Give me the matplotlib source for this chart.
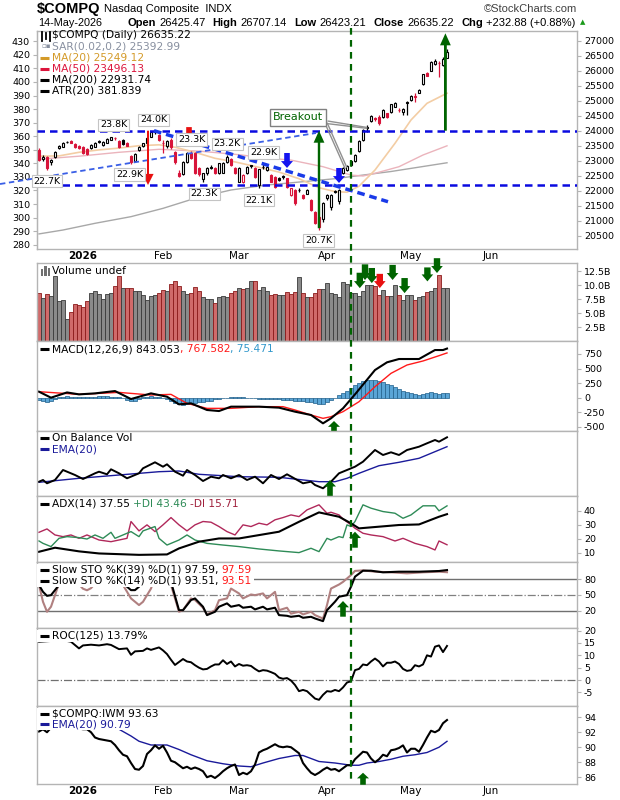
#!/usr/bin/env python3
"""
Nasdaq Composite daily chart with indicator panels, StockCharts style.
Saves out.png (620x800).
"""

import matplotlib
matplotlib.use("Agg")
import matplotlib.pyplot as plt
from matplotlib.lines import Line2D
from matplotlib.patches import FancyArrow, Rectangle

plt.rcParams["axes.unicode_minus"] = False

# ---------------- data (trading-day index 0 = 16-Dec-2025) ----------------
month_idx = [11, 31, 50, 72, 93, 113]
month_labels = ["2026", "Feb", "Mar", "Apr", "May", "Jun"]

prev_close0 = 23400
opens = [23357, 23050, 23130, 22960, 23110, 23420, 23470, 23640, 23650, 23550,
         23480, 23470, 23400, 23410, 23470, 23650, 23520, 23600, 23700, 23770,
         23650, 23690, 23600, 23150, 22980, 23350, 23480, 23600, 23800, 24000,
         23850, 23600, 23500, 23700, 23300, 22600, 22560, 22960, 23260, 23250,
         22750, 22400, 22580, 22800, 22745, 22580, 22600, 22960, 23050, 22750,
         22300, 22300, 22580, 22850, 22750, 22190, 22800, 22690, 22520, 22470,
         22410, 22480, 22410, 21860, 22024, 22040, 21870, 21900, 21690, 21300,
         21135, 21047, 21760, 21470, 21990, 21650, 22600, 22700, 22850, 22980,
         23335, 23690, 24110, 24335, 24420, 24470, 24446, 24580, 24635, 24802,
         24700, 24635, 24945, 25024, 25150, 25270, 25546, 25910, 26000, 26212,
         26250, 26190, 26425.47]
highs = [23420, 23180, 23160, 23060, 23330, 23510, 23620, 23670, 23680, 23580,
         23520, 23500, 23430, 23560, 23630, 23680, 23660, 23750, 23800, 23790,
         23700, 23720, 23640, 23200, 23260, 23500, 23600, 23780, 24000, 24020,
         23880, 23700, 23680, 23740, 23330, 22680, 22980, 23280, 23330, 23280,
         22800, 22600, 22780, 22850, 22790, 22940, 22960, 23200, 23080, 22780,
         22780, 22560, 22830, 22870, 22780, 22740, 22900, 22850, 22560, 22500,
         22450, 22520, 22440, 22100, 22060, 22080, 21900, 22050, 21720, 21330,
         21160, 21620, 21900, 21900, 22030, 22060, 22800, 22870, 23000, 23220,
         23680, 24050, 24180, 24520, 24470, 24520, 24720, 24600, 24900, 24960,
         24750, 24740, 24980, 25180, 25240, 25380, 25900, 25950, 26320, 26400,
         26320, 26460, 26707.14]
lows = [22990, 22980, 22690, 22870, 23080, 23390, 23450, 23590, 23580, 23420,
        23400, 23220, 23200, 23380, 23450, 23590, 23490, 23580, 23680, 23700,
        23440, 23540, 23480, 22900, 22950, 23320, 23450, 23580, 23780, 23900,
        23650, 23250, 23420, 23400, 22900, 22450, 22520, 22930, 23050, 22560,
        22500, 22300, 22540, 22720, 22550, 22560, 22580, 22940, 22820, 22560,
        22280, 22250, 22550, 22760, 22420, 22100, 22740, 22660, 22280, 22100,
        22330, 22400, 22100, 21820, 21520, 21950, 21720, 21880, 21330, 20880,
        20700, 20950, 21700, 21360, 21920, 21560, 22550, 22650, 22820, 22950,
        23300, 23660, 23950, 24300, 24330, 24200, 24420, 24420, 24600, 24780,
        24620, 24520, 24524, 25000, 24970, 25250, 25520, 25820, 25980, 26190,
        25800, 26150, 26423.21]
closes = [23023, 23130, 22750, 23010, 23300, 23490, 23600, 23610, 23600, 23450,
          23440, 23246, 23230, 23520, 23600, 23620, 23640, 23720, 23780, 23740,
          23470, 23560, 23500, 22950, 23230, 23470, 23580, 23760, 23950, 23960,
          23690, 23580, 23650, 23450, 22950, 22500, 22950, 23250, 23100, 22600,
          22550, 22580, 22745, 22760, 22580, 22910, 22920, 23140, 22850, 22600,
          22745, 22520, 22800, 22810, 22450, 22710, 22780, 22800, 22300, 22135,
          22357, 22470, 22135, 22080, 21580, 22020, 21745, 22010, 21357, 20912,
          20800, 21580, 21850, 21860, 21970, 22030, 22760, 22830, 22980, 23200,
          23657, 24024, 24090, 24490, 24380, 24245, 24690, 24446, 24890, 24935,
          24680, 24725, 24935, 25157, 25110, 25357, 25880, 25835, 26300, 26324,
          26240, 26402.34, 26635.22]

ma20_i = [0, 5, 10, 15, 20, 25, 30, 34, 39, 44, 49, 55, 60, 65, 70, 74, 77, 80, 84, 89, 93, 97, 102]
ma20_v = [23150, 23160, 23280, 23360, 23420, 23500, 23530, 23450, 23280, 23080, 22960, 22780,
          22620, 22400, 22100, 21970, 21950, 22150, 22690, 23580, 24357, 24913, 25249]
ma50_i = [0, 10, 20, 30, 40, 50, 56, 63, 71, 78, 81, 84, 90, 96, 102]
ma50_v = [23050, 23150, 23280, 23380, 23320, 23200, 23100, 23020, 22800, 22520, 22490, 22580,
          22800, 23190, 23496]
ma200_i = [0, 6, 14, 23, 31, 39, 48, 57, 66, 74, 78, 88, 102]
ma200_v = [20560, 20690, 20913, 21135, 21412, 21746, 22024, 22190, 22300, 22400, 22470, 22640, 22931]

volume_b = [8.56, 7.66, 8.4, 7.96, 11.7, 7.2, 7.4, 3.95, 5.15, 6.6,
            6.45, 6.0, 7.2, 8.56, 9.0, 8.4, 7.55, 8.4, 8.56, 9.75,
            11.7, 9.45, 9.45, 9.45, 9.0, 9.0, 8.15, 7.4, 7.96, 8.15,
            8.56, 9.15, 8.85, 10.15, 10.75, 9.75, 9.0, 8.4, 8.56, 9.65,
            9.0, 7.8, 7.55, 7.55, 6.8, 7.8, 7.96, 7.8, 8.56, 9.0,
            9.45, 9.3, 9.45, 10.75, 10.75, 9.15, 9.6, 8.85, 8.25, 8.4,
            8.25, 8.25, 8.7, 8.4, 8.7, 11.4, 8.56, 7.8, 7.8, 8.56,
            9.3, 9.3, 10.3, 8.56, 8.4, 7.8, 10.5, 10.15, 8.56, 8.56,
            7.96, 9.0, 9.95, 9.95, 9.75, 8.25, 9.15, 7.96, 7.96, 10.0,
            8.15, 7.4, 8.15, 8.15, 7.4, 7.8, 7.96, 8.7, 9.0, 9.45,
            11.8, 9.45, 9.45]

macd_i = [0, 3, 7, 10, 14, 19, 23, 28, 32, 35, 38, 42, 45, 48, 55, 60, 64, 68, 71, 73, 76,
          79, 84, 87, 90, 95, 99, 101, 102]
macd_v = [103, 0, 90, 57, 74, 114, -23, 74, 17, -114, -97, -211, -229, -154, -154, -171, -240,
          -297, -440, -354, -183, 57, 475, 607, 664, 664, 818, 818, 843]
signal_i = [0, 10, 20, 28, 33, 37, 42, 48, 55, 61, 64, 68, 71, 73, 76, 80, 84, 88, 92, 96, 100, 102]
signal_v = [103, 57, 91, 46, 57, -97, -183, -183, -154, -154, -211, -297, -354, -326, -240, -69,
            189, 418, 561, 630, 721, 768]
macd_hist = [-40, -60, -70, -50, -30, 10, 20, 25, 20, 15,
             10, 10, 15, 15, 20, 25, 30, 25, 20, 15,
             10, -10, -40, -60, -50, -20, 10, 20, 25, 20,
             10, -10, -30, -60, -90, -110, -120, -110, -100, -90,
             -80, -70, -60, -50, -30, -20, -10, 0, 10, 15,
             10, 5, 0, -5, -10, -15, -20, -20, -25, -30,
             -30, -35, -40, -40, -50, -60, -60, -70, -80, -90,
             -100, -110, -80, -40, 0, 40, 80, 120, 170, 210,
             250, 280, 300, 310, 300, 290, 270, 240, 210, 180,
             150, 120, 100, 80, 60, 50, 60, 80, 90, 85,
             70, 75, 75]

obv_i = [0, 1, 2, 4, 6, 9, 11, 14, 15, 17, 18, 20, 22, 25, 26, 29, 31, 32, 34, 36, 37, 39, 41,
         43, 45, 46, 48, 50, 52, 54, 56, 58, 60, 62, 65, 66, 68, 69, 71, 73, 75, 79, 81, 84, 86,
         88, 90, 92, 95, 97, 99, 100, 102]
obv_v = [14.3, 16, 12.7, 16, 26, 21, 17, 22.7, 24.3, 21.7, 26.7, 22.7, 17.7, 22.7, 27.7, 33.7,
         29.3, 31.7, 24.3, 20.3, 26, 21, 15, 19.3, 17.7, 21, 17.7, 21, 16, 19.3, 12.7, 21, 17,
         21.7, 15, 12.7, 14.3, 11, 7.7, 14.3, 22.7, 29.3, 34.3, 46, 41, 43.7, 41, 46, 49.3, 52.7,
         56, 54.3, 58.7]
obv_ema_i = [0, 10, 20, 30, 35, 40, 50, 60, 70, 74, 77, 80, 85, 90, 95, 102]
obv_ema_v = [13.7, 17.7, 21, 24.3, 25, 21.7, 19.3, 18.7, 14.3, 14.3, 17.7, 22.7, 30.3, 33.7, 37.7, 49.3]

adx_i = [0, 4, 10, 15, 25, 32, 35, 40, 45, 50, 55, 60, 65, 70, 75, 78, 80, 85, 90, 95, 100, 102]
adx_v = [10.7, 13.6, 11.0, 9.5, 8.5, 8.8, 13.1, 17.9, 20.2, 20.2, 22.6, 25.0, 32.1, 38.8, 35.7,
         31.0, 27.4, 28.6, 29.8, 30.2, 35.7, 37.55]
pdi_i = [0, 1, 3, 5, 7, 10, 12, 14, 16, 18, 19, 21, 23, 25, 26, 29, 30, 32, 35, 37, 39, 42, 46,
         50, 55, 60, 65, 68, 70, 72, 73, 75, 76, 77, 78, 79, 81, 83, 86, 89, 91, 93, 96, 99, 100, 102]
pdi_v = [18.4, 16.7, 14.4, 20.3, 21.5, 20.8, 19.8, 22.7, 20.3, 24.6, 20.3, 22.7, 25.1, 21.5,
         25.6, 28.7, 20.3, 15.5, 19.1, 22.7, 19.1, 16.7, 15.5, 14.4, 12.7, 11.3, 10.1, 13.2, 10.8,
         20.3, 19.1, 21.5, 20.8, 29.9, 28.7, 32.3, 44.2, 41.8, 39.4, 38.2, 34.6, 37.0, 43.5, 43.5,
         39.9, 43.46]
mdi_i = [0, 2, 4, 6, 8, 10, 12, 15, 18, 20, 22, 23, 25, 27, 29, 31, 33, 35, 37, 39, 41, 43, 45,
         47, 49, 51, 53, 55, 57, 59, 61, 63, 65, 67, 69, 70, 72, 73, 75, 76, 78, 79, 81, 83, 86,
         89, 91, 94, 97, 99, 100, 102]
mdi_v = [24.6, 27.0, 22.7, 21.5, 22.7, 20.3, 22.7, 19.1, 17.9, 19.1, 20.3, 32.3, 25.6, 29.9,
         25.1, 29.9, 35.1, 29.9, 25.6, 29.9, 32.3, 31.8, 28.7, 25.1, 22.7, 29.9, 28.7, 31.1, 29.9,
         33.5, 35.1, 37.0, 35.8, 40.6, 43.0, 44.2, 38.2, 38.9, 37.0, 34.1, 29.9, 27.5, 23.9, 22.7,
         21.5, 18.4, 20.3, 16.7, 14.4, 12.0, 18.4, 15.71]

sto39_i = [0, 1, 2, 3, 4, 5, 6, 8, 12, 16, 20, 21, 22, 23, 24, 25, 26, 27, 29, 31, 33, 35, 36,
           38, 39, 41, 42, 44, 45, 47, 48, 50, 51, 53, 54, 56, 57, 59, 60, 62, 63, 65, 66, 68,
           69, 71, 72, 74, 75, 77, 78, 79, 81, 83, 86, 90, 95, 100, 102]
sto39_v = [69, 56, 48.4, 49.7, 59.3, 69, 81.7, 90, 92, 90, 88, 75.4, 65.8, 59.3, 59.3, 65.8,
           75.4, 85, 93, 92, 75, 21, 21, 40.3, 43.5, 27.6, 11.6, 18, 27.6, 34, 27.6, 30.8, 25.7,
           27.6, 22.5, 27.6, 22.5, 25.7, 11.6, 10.3, 8.4, 10.3, 6.5, 8.4, 5.2, 0.1, 21, 37.2,
           46.7, 49.7, 65.8, 85, 96.4, 96.4, 93.3, 94.5, 94.5, 95.8, 97.59]
sto14_i = [0, 1, 2, 3, 4, 5, 6, 8, 10, 11, 12, 13, 14, 16, 20, 21, 23, 25, 26, 28, 29, 31, 33,
           35, 36, 38, 39, 41, 42, 44, 45, 47, 48, 50, 51, 53, 54, 56, 57, 59, 60, 62, 63, 65,
           66, 68, 69, 71, 72, 73, 75, 76, 78, 79, 81, 84, 88, 92, 96, 100, 102]
sto14_v = [69, 37, 18, 27.6, 49.7, 72.2, 84, 90, 70, 62, 59, 63, 72, 90, 88, 69, 43.5, 30.8,
           37, 62.3, 85, 92, 69, 18, 21, 43.5, 40.3, 25.7, 12.9, 21, 40, 43.5, 62.3, 53, 43.5,
           51, 49.7, 53, 43.5, 56, 21, 25.7, 14.4, 18, 12.9, 18, 11.6, 5, 30.8, 62.3, 70, 75, 88,
           96, 97, 94.5, 93.3, 91.3, 93.3, 94.5, 93.51]

roc_i = [0, 5, 7, 8, 10, 11, 13, 15, 17, 18, 20, 22, 23, 24, 26, 27, 28, 30] + list(range(31, 103))
roc_v = [15.5, 16, 15.8, 15.5, 12.8, 14, 14.3, 14, 14.5, 14.2, 12.5, 12.8, 10.2, 11.6, 11.8,
         12.8, 12.2, 13.2,
         12, 10.5, 8.2, 6.1, 7.3, 8.5, 7.5, 7.2, 6, 5,
         4.3, 4.5, 5.5, 6.3, 6.3, 8, 6.5, 7.5, 5.5, 6.5,
         5.8, 6, 5.7, 4.5, 3.5, 4, 3.8, 3.2, 2.5, 1,
         0.5, 0.8, -0.2, -2, -4.5, -4, -4.5, -6, -7.5, -8,
         -6, -4.5, -4.7, -4, -4.5, -3, -1, -0.5, 4, 4.5,
         6.3, 6, 7.5, 8.7, 7.5, 5.5, 7, 7, 7.5, 6.5,
         4.5, 3.7, 4, 6, 5.5, 6.3, 10, 9.5, 13.5, 14,
         11.3, 13.79]

ratio = [92.1, 92.4, 92.0, 92.6, 92.8, 93.0, 93.2, 93.0, 92.8, 92.6,
         92.5, 92.4, 92.4, 92.0, 91.3, 91.1, 91.0, 90.9, 90.8, 90.3,
         89.6, 89.0, 88.8, 87.9, 87.1, 87.0, 87.5, 89.1, 89.6, 90.25,
         89.8, 90.2, 89.3, 88.2, 88.0, 87.6, 87.2, 87.4, 87.1, 87.3,
         87.1, 86.8, 86.0, 86.2, 85.9, 86.3, 86.8, 87.2, 87.5, 87.7,
         86.3, 86.6, 86.4, 86.8, 87.7, 89.3, 89.6, 89.8, 90.1, 90.4,
         90.1, 90.0, 90.1, 90.0, 89.6, 89.2, 87.9, 87.2, 86.6, 86.3,
         86.6, 87.0, 87.3, 87.0, 87.1, 86.8, 87.2, 87.6, 87.6, 88.4,
         88.9, 89.4, 89.3, 88.5, 88.0, 88.4, 89.0, 88.8, 89.6, 89.7,
         89.9, 90.25, 89.3, 89.8, 89.8, 89.4, 90.3, 91.3, 92.2, 92.0,
         92.3, 93.2, 93.63]
ratio_ema_i = [0, 10, 20, 23, 25, 28, 32, 35, 38, 42, 46, 50, 53, 56, 60, 64, 66, 70, 74, 78,
               80, 82, 85, 88, 91, 94, 97, 100, 102]
ratio_ema_v = [93.0, 92.8, 92.4, 91.5, 90.8, 90.3, 90.3, 89.7, 89.0, 88.2, 87.8, 87.5, 87.4,
               87.9, 88.5, 88.9, 88.9, 88.1, 87.9, 87.6, 87.6, 87.9, 88.1, 88.4, 88.8, 89.0,
               89.3, 90.0, 90.79]

# ---------------- annotations (index, price) ----------------
upper_level, lower_level = 24000, 22200
breakout_idx = 77.9
price_labels = [(18.7, 24197, "23.8K"), (28.6, 24357, "24.0K"), (22.6, 22540, "22.9K"),
                (2.0, 22323, "22.7K"), (38.2, 23707, "23.3K"), (47.1, 23557, "23.2K"),
                (41.3, 21900, "22.3K"), (56.1, 23273, "22.9K"), (55.0, 21690, "22.1K"),
                (69.9, 20340, "20.7K")]

GREEN = "#006400"
RED = "#e81010"
BLUE = "#1414f0"
CANDLE_RED = "#d8143a"
SPINE = "#b4b4b4"

W, H = 620, 800
LEFT, RIGHT = 37, 577
XMIN, XMAX = -0.5, 134.5

fig = plt.figure(figsize=(W / 100, H / 100), dpi=100)
fig.patch.set_facecolor("white")
renderer = fig.canvas.get_renderer()


def add_panel(top, bottom):
    ax = fig.add_axes([LEFT / W, 1 - bottom / H, (RIGHT - LEFT) / W, (bottom - top) / H])
    ax.set_xlim(XMIN, XMAX)
    for s in ax.spines.values():
        s.set_color(SPINE)
        s.set_linewidth(1.0)
    ax.yaxis.tick_right()
    ax.tick_params(axis="y", labelsize=6.8, length=3, width=0.8, color=SPINE, pad=2)
    ax.tick_params(axis="x", length=0, labelbottom=False)
    return ax


def block_arrow(ax, x, y0, y1, color, body, head, head_len):
    ax.add_patch(FancyArrow(x, y0, 0, y1 - y0, width=body, head_width=head,
                            head_length=head_len, length_includes_head=True,
                            fc=color, ec=color, lw=0, clip_on=False, zorder=7))


def seg_text(x, y, parts, size=7.7, family="DejaVu Sans", bg=False, marker=None):
    """Draw coloured text pieces one after another at pixel position."""
    if marker:
        fig.add_artist(Line2D([(x + 1) / W, (x + 10) / W], [1 - y / H] * 2, color=marker,
                              lw=2.2, solid_capstyle="butt", zorder=6))
        x += 13
    start = x
    cur = x
    for s, color, weight in parts:
        lead = len(s) - len(s.lstrip(" "))
        cur += lead * size * 0.32 * 100 / 72
        t = fig.text(cur / W, 1 - y / H, s.lstrip(" "), color=color, fontsize=size,
                     fontweight=weight, family=family, ha="left", va="center", zorder=6)
        cur += t.get_window_extent(renderer).width
    if bg:
        fig.add_artist(Rectangle(((start - 15) / W, 1 - (y + 6) / H), (cur - start + 17) / W,
                                 12 / H, transform=fig.transFigure, fc="white", ec="none",
                                 zorder=5))
    return cur


x = list(range(len(closes)))
prev = [prev_close0] + closes[:-1]
is_down = [c < p for c, p in zip(closes, prev)]

# ---------------- main price panel ----------------
ax = add_panel(31, 249)
ax.set_ylim(20057, 27323)
ax.set_yticks(range(20500, 27001, 500))
ax.set_xticks(month_idx)
ax.set_xticklabels(month_labels)
ax.tick_params(axis="x", labelbottom=True, labelsize=7.5, pad=1.5)
ax.get_xticklabels()[0].set_fontweight("bold")

sec = ax.secondary_yaxis("left", functions=(lambda p: 280 + (p - 20200) * 0.022124,
                                             lambda v: 20200 + (v - 280) / 0.022124))
sec.set_yticks(range(280, 431, 10))
sec.tick_params(labelsize=6.8, length=3, width=0.8, color=SPINE, pad=2)
sec.spines["left"].set_color(SPINE)

ax.plot(ma200_i, ma200_v, color="#a8a8a8", lw=1.0, zorder=2)
ax.plot(ma50_i, ma50_v, color="#ebb4bc", lw=1.0, zorder=2)
ax.plot(ma20_i, ma20_v, color="#f3cda4", lw=1.2, zorder=2)

edge = [CANDLE_RED if d else "black" for d in is_down]
face = [e if c < o else "white" for e, c, o in zip(edge, closes, opens)]
body_lo = [min(o, c) for o, c in zip(opens, closes)]
body_h = [max(abs(c - o), 20) for o, c in zip(opens, closes)]
ax.vlines(x, lows, highs, colors=edge, lw=0.9, zorder=3)
ax.bar(x, body_h, bottom=body_lo, width=0.72, color=face, edgecolor=edge, linewidth=0.8, zorder=4)

ax.axhline(upper_level, color="#0a0ae0", lw=1.8, ls=(0, (3, 2)), zorder=5)
ax.axhline(lower_level, color="#0a0ae0", lw=1.8, ls=(0, (3, 2)), zorder=5)
ax.plot([-9.75, 69.25], [22223, 23923], color="#3a5fe6", lw=1.3, ls=(0, (3, 2)),
        clip_on=False, zorder=5)
ax.plot([28.75, 87.25], [24000, 21633], color="#1a3ae8", lw=2.5, ls=(0, (2.2, 1.4)), zorder=5)

for xi, p, s in price_labels:
    ax.text(xi, p, s, fontsize=6.8, ha="center", va="center", zorder=8,
            bbox=dict(boxstyle="square,pad=0.18", fc="white", ec="#c4c4c4", lw=0.8))

block_arrow(ax, 70, 20750, upper_level, GREEN, 0.6, 2.7, 400)
block_arrow(ax, 101.6, upper_level, 27246, GREEN, 0.7, 2.7, 400)
block_arrow(ax, 27.25, upper_level, 22190, RED, 0.5, 2.8, 370)
block_arrow(ax, 37.5, 24120, 23623, RED, 1.4, 3.0, 230)
block_arrow(ax, 62, 23257, 22757, BLUE, 1.4, 3.0, 230)
block_arrow(ax, 75, 22757, 22257, BLUE, 1.4, 3.0, 230)

ax.plot([71.5, 76.5], [24245, 22746], color="#909090", lw=1.0, zorder=6)
ax.plot([72.1, 76.9], [24245, 22790], color="#909090", lw=1.0, zorder=6)
ax.plot([71.5, 81.9], [24245, 24080], color="#909090", lw=1.0, zorder=6)
ax.plot([72.3, 81.9], [24320, 24110], color="#909090", lw=1.0, zorder=6)
ax.text(64.75, 24440, "Breakout", color=GREEN, fontsize=8, ha="center", va="center", zorder=8,
        bbox=dict(boxstyle="square,pad=0.3", fc="white", ec="#808080", lw=1.0))

# ---------------- volume ----------------
axv = add_panel(263, 341)
axv.set_ylim(0, 13.94)
axv.set_yticks([2.5, 5.0, 7.5, 10.0, 12.5])
axv.set_yticklabels(["2.5B", "5.0B", "7.5B", "10.0B", "12.5B"])
axv.bar(x, volume_b, width=0.8, color=["#d06a6a" if d else "#8a8a8a" for d in is_down],
        edgecolor=["#8b1a1a" if d else "#3a3a3a" for d in is_down], linewidth=0.6)
for xi, top, tip, col in [(80.2, 12.2, 9.45, GREEN), (81.5, 13.7, 10.9, GREEN),
                          (83.2, 13.05, 10.35, GREEN), (85.2, 12.0, 9.45, RED),
                          (88.4, 13.6, 10.9, GREEN), (91.4, 11.25, 8.56, GREEN),
                          (97.1, 13.15, 10.65, GREEN), (99.5, 14.8, 12.15, GREEN)]:
    block_arrow(axv, xi, top, tip, col, 1.6, 2.9, 1.25)

# ---------------- MACD ----------------
axm = add_panel(341, 430.5)
axm.set_ylim(-563, 973)
axm.set_yticks([-500, -250, 0, 250, 500, 750])
axm.bar(x, macd_hist, width=0.9, color="#5aa5d6", edgecolor="#1f5f8a", linewidth=0.5)
axm.plot(signal_i, signal_v, color="#ff1a1a", lw=1.0)
axm.plot(macd_i, macd_v, color="black", lw=1.5)
block_arrow(axm, 73.75, -650, -400, GREEN, 1.4, 3.0, 100)

# ---------------- OBV ----------------
axo = add_panel(430.5, 496)
axo.set_ylim(0, 65.5)
axo.set_yticks([])
axo.plot(obv_ema_i, obv_ema_v, color="#1a1a9a", lw=1.0)
axo.plot(obv_i, obv_v, color="black", lw=1.4)
block_arrow(axo, 72.75, 0, 16, GREEN, 1.4, 3.0, 6.5)

# ---------------- ADX ----------------
axa = add_panel(496, 562)
axa.set_ylim(3.4, 50.5)
axa.set_yticks([10, 20, 30, 40])
axa.plot(mdi_i, mdi_v, color="#b0285a", lw=1.0)
axa.plot(pdi_i, pdi_v, color="#2e8b57", lw=1.0)
axa.plot(adx_i, adx_v, color="black", lw=1.5)
block_arrow(axa, 79, 13.6, 25, GREEN, 1.4, 3.0, 4.5)

# ---------------- Slow stochastics ----------------
axs = add_panel(562, 628)
axs.set_ylim(-13, 113)
axs.set_yticks([20, 50, 80])
axs.axhline(80, color="#707070", lw=1.0)
axs.axhline(20, color="#707070", lw=1.0)
axs.axhline(50, color="#808080", lw=0.9, ls="-.")
axs.plot(sto14_i, sto14_v, color="#b08080", lw=1.5)
axs.plot(sto39_i, sto39_v, color="black", lw=1.5)
block_arrow(axs, 76, 8.6, 38.5, GREEN, 1.4, 3.0, 12)

# ---------------- ROC ----------------
axr = add_panel(628, 706)
axr.set_ylim(-10.5, 21.05)
axr.set_yticks([-5, 0, 5, 10, 15, 20])
axr.axhline(0, color="#707070", lw=0.9, ls="-.")
axr.plot(roc_i, roc_v, color="black", lw=1.4)

# ---------------- $COMPQ:IWM ----------------
axi = add_panel(706, 784)
axi.set_ylim(85.1, 95.5)
axi.set_yticks([86, 88, 90, 92, 94])
axi.plot(ratio_ema_i, ratio_ema_v, color="#1a1a9a", lw=1.0)
axi.plot(x, ratio, color="black", lw=1.5)
axi.set_xticks(month_idx)
axi.set_xticklabels(month_labels)
axi.tick_params(axis="x", labelbottom=True, labelsize=7.5, pad=1.5)
axi.get_xticklabels()[0].set_fontweight("bold")
block_arrow(axi, 81, 85.0, 86.6, GREEN, 1.4, 3.0, 0.75)

# dashed vertical breakout line across every panel
xf = fig.transFigure.inverted().transform(ax.transData.transform((breakout_idx, 0)))[0]
fig.add_artist(Line2D([xf, xf], [1 - 28 / H, 1 - 784 / H], color=GREEN, lw=1.6,
                      ls=(0, (3, 2.4)), zorder=3))

# ---------------- header ----------------
end = seg_text(37, 9, [("$COMPQ", "black", "bold")], size=10.5, family="Liberation Sans")
fig.text((end + 3) / W, 1 - 9.5 / H, "Nasdaq Composite  INDX", fontsize=8,
         family="Liberation Sans", ha="left", va="center")
fig.text(577 / W, 1 - 9.5 / H, "\u00a9StockCharts.com", fontsize=8, family="Liberation Sans",
         color="#404040", ha="right", va="center")
fig.text(38 / W, 1 - 22.5 / H, "14-May-2026", fontsize=7.8, family="Liberation Sans",
         ha="left", va="center")
end = seg_text(127, 22.5, [("Open", "black", "bold"), (" 26425.47", "black", "normal"),
                           ("  High", "black", "bold"), (" 26707.14", "black", "normal"),
                           ("  Low", "black", "bold"), (" 26423.21", "black", "normal"),
                           ("  Close", "black", "bold"), (" 26635.22", "black", "normal"),
                           ("  Chg", "black", "bold"), (" +232.88 (+0.88%)", "black", "normal")],
               size=8, family="Liberation Sans")
fig.text((end + 4) / W, 1 - 22.5 / H, "\u25b2", fontsize=5, color="#1a9a1a", ha="left",
         va="center")

# ---------------- panel legends ----------------
K = "black"
N = "normal"
# main panel: small candle icon
for dx, y0, y1 in [(42, 31.5, 40.5), (46, 33, 39), (50, 32, 41)]:
    fig.add_artist(Line2D([dx / W] * 2, [1 - y0 / H, 1 - y1 / H], color="black", lw=1.3))
seg_text(52, 35.5, [("$COMPQ (Daily) 26635.22", K, N)])
fig.text(41 / W, 1 - 46.5 / H, "\u25ab\u25aa", fontsize=5, color="#8890a0", ha="left",
         va="center")
seg_text(52, 46.5, [("SAR(0.02,0.2) 25392.99", "#8890a0", N)])
seg_text(39, 57.5, [("MA(20) 25249.12", "#d49a28", N)], marker="#d49a28")
seg_text(39, 68.5, [("MA(50) 23496.13", "#dc143c", N)], marker="#dc143c")
seg_text(39, 79.5, [("MA(200) 22931.74", K, N)], marker=K)
seg_text(39, 90.5, [("ATR(20) 381.839", K, N)], marker=K)

for dx, h in [(42, 7), (45.5, 10), (49, 8)]:
    fig.add_artist(Rectangle(((dx - 1.2) / W, 1 - 275.5 / H), 2.4 / W, h / H,
                             transform=fig.transFigure, fc="#707070", ec="none"))
seg_text(52, 270.7, [("Volume undef", K, N)])
seg_text(39, 349, [("MACD(12,26,9) 843.053", K, N), (", 767.582", "#ff1a1a", N),
                   (", 75.471", "#3399cc", N)], marker=K)
seg_text(39, 437.7, [("On Balance Vol", K, N)], marker=K)
seg_text(39, 449, [("EMA(20)", "#1a1a9a", N)], marker="#1a1a9a")
seg_text(39, 503.7, [("ADX(14) 37.55", K, N), (" +DI 43.46", "#2e8b57", N),
                     (" -DI 15.71", "#a0203c", N)], marker=K)
seg_text(39, 570, [("Slow STO %K(39) %D(1) 97.59,", K, N), (" 97.59", "#ff1a1a", N)],
         marker=K, bg=True)
seg_text(39, 580.5, [("Slow STO %K(14) %D(1) 93.51,", K, N), (" 93.51", "#ff1a1a", N)],
         marker=K, bg=True)
seg_text(39, 635.7, [("ROC(125) 13.79%", K, N)], marker=K, bg=True)
seg_text(39, 713.7, [("$COMPQ:IWM 93.63", K, N)], marker=K, bg=True)
seg_text(39, 724.3, [("EMA(20) 90.79", "#1a1a9a", N)], marker="#1a1a9a", bg=True)

fig.savefig("out.png", dpi=100, facecolor="white")
